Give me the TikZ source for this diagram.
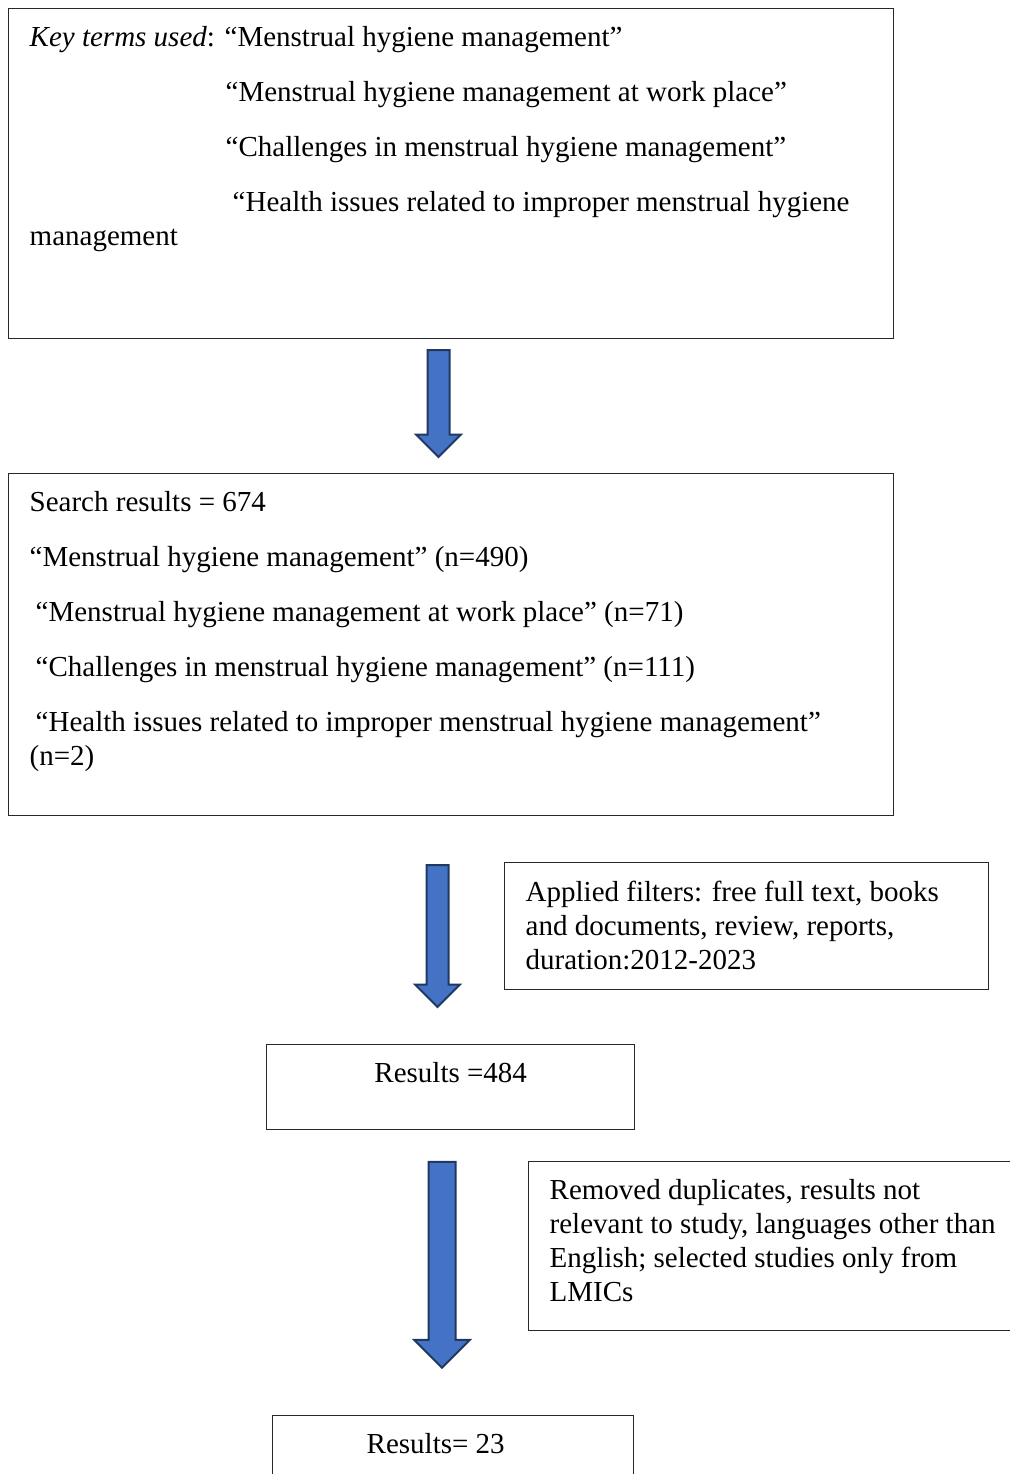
\documentclass[tikz,border=0pt]{standalone}
\usepackage{fontspec}
\setmainfont{Liberation Serif}
\usetikzlibrary{shapes.arrows}
\definecolor{arrowblue}{RGB}{68,114,196}
\definecolor{arrowline}{RGB}{31,56,100}
\definecolor{boxgray}{RGB}{40,40,40}
\newcommand{\boxtext}[3]{\parbox[t][#2][t]{#1}{\raggedright #3}}

\begin{document}
\begin{tikzpicture}[x=0.5pt,y=-0.5pt,box/.style={draw=boxgray,line width=0.7pt,anchor=north west,inner xsep=10.5pt,inner ysep=9pt,font=\fontsize{14.5}{17}\selectfont},arr/.style={single arrow,draw=arrowline,fill=arrowblue,line width=1pt,inner sep=5pt,shape border rotate=270,single arrow head extend=5.75pt}]
\useasboundingbox (0,0) rectangle (1009,1474);
\node[box](keys) at (8,8){\boxtext{421.5pt}{147pt}{\textit{Key terms used}: “Menstrual hygiene management”\\[10.5pt]\hspace*{98pt}“Menstrual hygiene management at work place”\\[10.5pt]\hspace*{98pt}“Challenges in menstrual hygiene management”\\[10.5pt]\mbox{\hspace*{98pt}\hspace*{3.5pt}“Health issues related to improper menstrual hygiene}\\management}};
\node[box](search) at (8,473){\boxtext{421.5pt}{153pt}{Search results = 674\\[10.5pt]“Menstrual hygiene management” (n=490)\\[10.5pt]\hspace*{3pt}“Menstrual hygiene management at work place” (n=71)\\[10.5pt]\hspace*{3pt}“Challenges in menstrual hygiene management” (n=111)\\[10.5pt]\mbox{\hspace*{3pt}“Health issues related to improper menstrual hygiene management”}\\(n=2)}};
\node[box](filters) at (504,862){\boxtext{221pt}{45.5pt}{Applied filters: free full text, books\\and documents, review, reports,\\duration:2012-2023}};
\node[box](res1) at (266,1044){\parbox[t][24.5pt][t]{163pt}{\centering Results =484}};
\node[box](removed) at (528,1161){\boxtext{229pt}{66.5pt}{Removed duplicates, results not\\\mbox{relevant to study, languages other than}\\English; selected studies only from\\LMICs}};
\node[box](res2) at (272,1415){\boxtext{159.5pt}{24.5pt}{\hspace*{36.5pt}Results= 23}};
% block arrows between the stages
\node[arr,minimum height=53.5pt](a1) at (438.5,398){};
\node[arr,minimum height=71pt](a2) at (437.5,930.5){};
\node[arr,minimum height=103pt,inner sep=6.25pt,single arrow head extend=7.25pt](a3) at (442,1258){};
\end{tikzpicture}
\end{document}
